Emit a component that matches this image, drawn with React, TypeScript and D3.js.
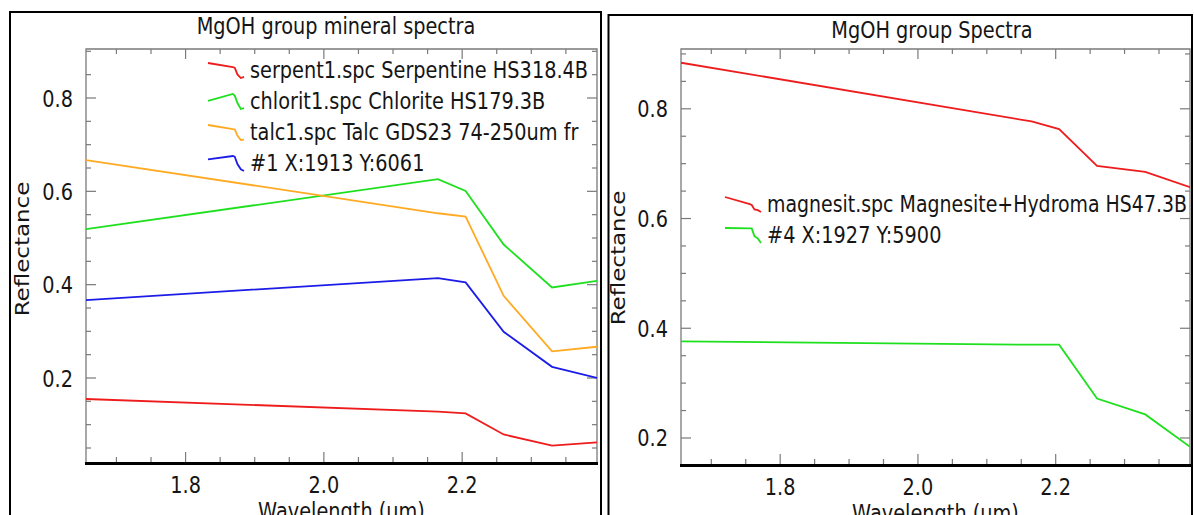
import React from "react";
import * as d3 from "d3";

// ASTER SWIR band centres (µm) shared by every spectrum
const wavelengths = [1.656, 2.165, 2.205, 2.26, 2.33, 2.395];

// Left panel: library mineral spectra and a sampled pixel
const serpentine = [0.155, 0.128, 0.124, 0.079, 0.055, 0.062];
const chlorite = [0.519, 0.626, 0.601, 0.486, 0.394, 0.408];
const talc = [0.667, 0.553, 0.546, 0.376, 0.257, 0.267];
const pixel1 = [0.367, 0.414, 0.405, 0.299, 0.224, 0.2];

// Right panel
const magnesite = [0.884, 0.777, 0.763, 0.696, 0.685, 0.657];
const pixel4 = [0.376, 0.37, 0.37, 0.272, 0.243, 0.184];

const leftNames = [
  "serpent1.spc Serpentine HS318.4B",
  "chlorit1.spc Chlorite HS179.3B",
  "talc1.spc Talc GDS23 74-250um fr",
  "#1 X:1913 Y:6061",
];
const rightNames = ["magnesit.spc Magnesite+Hydroma HS47.3B", "#4 X:1927 Y:5900"];

const xTickLabels = [1.8, 2.0, 2.2];
const yTickLabels = [0.2, 0.4, 0.6, 0.8];

const RED = "#ee1c1c";
const GREEN = "#1fe01f";
const ORANGE = "#ffaa22";
const BLUE = "#1c1ce8";
const FONT = "DejaVu Sans";
const SQUEEZE = 0.84;

type Series = { name: string; values: number[]; color: string };

function SText(props: {
  x: number;
  y: number;
  anchor?: "start" | "middle" | "end";
  rotate?: boolean;
  fit?: number;
  children: React.ReactNode;
}) {
  const { x, y, anchor = "start", rotate, fit, children } = props;
  const extra = fit ? { textLength: fit / SQUEEZE, lengthAdjust: "spacingAndGlyphs" } : {};
  return (
    <text
      transform={`translate(${x},${y}) scale(${SQUEEZE},1)${rotate ? " rotate(-90)" : ""}`}
      textAnchor={anchor}
      fontFamily={FONT}
      fontSize={23}
      fill="#151515"
      {...extra}
    >
      {children}
    </text>
  );
}

type PanelProps = {
  box: { x0: number; y0: number; x1: number };
  plot: { left: number; right: number; top: number; bottom: number };
  yDomain: [number, number];
  title: string;
  titleX: number;
  titleY: number;
  ylabelX: number;
  ylabelY: number;
  series: Series[];
  legendX: number;
  legendY: number[];
  legendFit?: (number | undefined)[];
  clipId: string;
};

function Panel(p: PanelProps) {
  const { plot } = p;
  const x = d3.scaleLinear().domain([1.656, 2.395]).range([plot.left, plot.right]);
  const y = d3.scaleLinear().domain(p.yDomain).range([plot.bottom, plot.top]);

  const line = d3
    .line<number>()
    .x((_, i) => x(wavelengths[i]))
    .y((v) => y(v));

  const xMinor = d3.range(1.7, 2.39, 0.05).filter((v) => v > 1.656 && v < 2.395);
  const yMinor = d3
    .range(0.05, 0.95, 0.05)
    .filter((v) => v > p.yDomain[0] && v < p.yDomain[1]);
  const isMajorX = (v: number) => xTickLabels.some((t) => Math.abs(t - v) < 1e-6);
  const isMajorY = (v: number) => yTickLabels.some((t) => Math.abs(t - v) < 1e-6);

  const frameColor = "#7a7a7a";

  // mini legend glyph: each spectrum squeezed into a small box
  const iconX = d3.scaleLinear().domain([1.656, 2.395]).range([0, 36]);
  const icon = (vals: number[], base: number) => {
    const iy = d3
      .scaleLinear()
      .domain(d3.extent(vals) as [number, number])
      .range([base, base - 15]);
    return d3
      .line<number>()
      .x((_, i) => p.legendX + iconX(wavelengths[i]))
      .y((v) => iy(v))(vals);
  };

  return (
    <g>
      {/* panel border */}
      <path
        d={`M${p.box.x0},530 V${p.box.y0} H${p.box.x1} V530`}
        fill="none"
        stroke="#000"
        strokeWidth={2}
      />
      <SText x={p.titleX} y={p.titleY} anchor="middle">
        {p.title}
      </SText>

      <clipPath id={p.clipId}>
        <rect x={plot.left} y={plot.top} width={plot.right - plot.left} height={plot.bottom - plot.top} />
      </clipPath>

      {/* frame */}
      <path
        d={`M${plot.left},${plot.bottom} V${plot.top} H${plot.right} V${plot.bottom}`}
        fill="none"
        stroke={frameColor}
        strokeWidth={1.3}
      />
      {/* x ticks: bottom (upward) and top (downward) */}
      {xMinor.map((v) => {
        const len = isMajorX(v) ? 10 : 5;
        const xx = x(v);
        return (
          <g key={`xt${v}`} stroke={frameColor} strokeWidth={1.2}>
            <line x1={xx} x2={xx} y1={plot.bottom} y2={plot.bottom - len} />
            <line x1={xx} x2={xx} y1={plot.top} y2={plot.top + len} />
          </g>
        );
      })}
      {/* y ticks: left (rightward) and right (leftward) */}
      {yMinor.map((v) => {
        const len = isMajorY(v) ? 10 : 5;
        const yy = y(v);
        return (
          <g key={`yt${v}`} stroke={frameColor} strokeWidth={1.2}>
            <line x1={plot.left} x2={plot.left + len} y1={yy} y2={yy} />
            <line x1={plot.right} x2={plot.right - len} y1={yy} y2={yy} />
          </g>
        );
      })}
      {/* heavy bottom axis */}
      <line
        x1={plot.left - 1}
        x2={plot.right + 1}
        y1={plot.bottom + 1.5}
        y2={plot.bottom + 1.5}
        stroke="#000"
        strokeWidth={3}
      />

      {xTickLabels.map((v) => (
        <SText key={`xl${v}`} x={x(v)} y={plot.bottom + 31} anchor="middle">
          {v.toFixed(1)}
        </SText>
      ))}
      {yTickLabels
        .filter((v) => v > p.yDomain[0] && v < p.yDomain[1])
        .map((v) => (
          <SText key={`yl${v}`} x={plot.left - 13} y={y(v) + 8.5} anchor="end">
            {v.toFixed(1)}
          </SText>
        ))}

      <SText x={(plot.left + plot.right) / 2} y={plot.bottom + 57} anchor="middle">
        Wavelength (µm)
      </SText>
      <SText x={p.ylabelX} y={p.ylabelY} anchor="middle" rotate>
        Reflectance
      </SText>

      <g clipPath={`url(#${p.clipId})`}>
        {p.series.map((s) => (
          <path key={s.name} d={line(s.values) || ""} fill="none" stroke={s.color} strokeWidth={1.8} />
        ))}
      </g>

      {p.series.map((s, i) => (
        <g key={`lg${s.name}`}>
          <path d={icon(s.values, p.legendY[i]) || ""} fill="none" stroke={s.color} strokeWidth={1.8} />
          <SText x={p.legendX + 42} y={p.legendY[i]} fit={p.legendFit ? p.legendFit[i] : undefined}>
            {s.name}
          </SText>
        </g>
      ))}
    </g>
  );
}

export default function App() {
  const leftSeries: Series[] = [
    { name: leftNames[0], values: serpentine, color: RED },
    { name: leftNames[1], values: chlorite, color: GREEN },
    { name: leftNames[2], values: talc, color: ORANGE },
    { name: leftNames[3], values: pixel1, color: BLUE },
  ];
  const rightSeries: Series[] = [
    { name: rightNames[0], values: magnesite, color: RED },
    { name: rightNames[1], values: pixel4, color: GREEN },
  ];

  return (
    <svg
      width={1194}
      height={515}
      viewBox="0 0 1194 515"
      style={{ position: "absolute", left: 0, top: 0, background: "#fff" }}
    >
      <rect width={1194} height={515} fill="#fff" />
      <Panel
        box={{ x0: 10, y0: 12, x1: 601 }}
        plot={{ left: 86, right: 597, top: 49, bottom: 462 }}
        yDomain={[0.02, 0.905]}
        title="MgOH group mineral spectra"
        titleX={336}
        titleY={34}
        ylabelX={29}
        ylabelY={249}
        series={leftSeries}
        legendX={208}
        legendY={[78, 109, 140, 171]}
        clipId="clipL"
      />
      <Panel
        box={{ x0: 608.5, y0: 15, x1: 1192 }}
        plot={{ left: 681, right: 1190, top: 49, bottom: 464 }}
        yDomain={[0.1526, 0.909]}
        title="MgOH group Spectra"
        titleX={932}
        titleY={38}
        ylabelX={625}
        ylabelY={258}
        series={rightSeries}
        legendX={725}
        legendY={[212, 243]}
        legendFit={[420, undefined]}
        clipId="clipR"
      />
    </svg>
  );
}
